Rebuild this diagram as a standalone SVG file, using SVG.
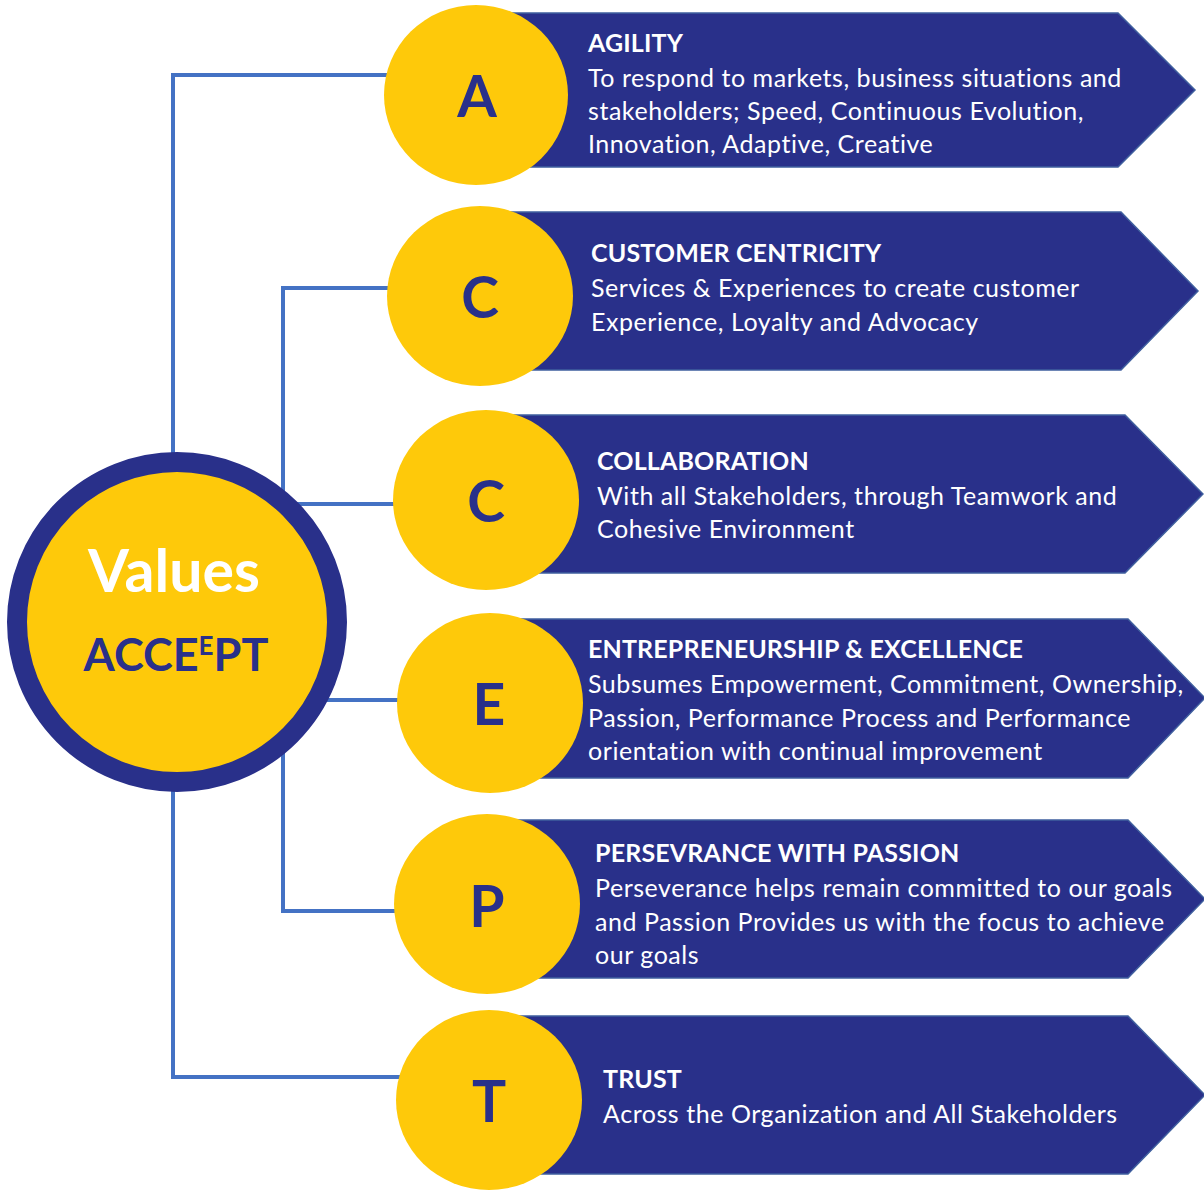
<svg xmlns="http://www.w3.org/2000/svg" width="1204" height="1191" viewBox="0 0 1204 1191">
  <style>
    .link { fill: none; stroke: #4472C4; stroke-width: 4; }
    .band { fill: #29308A; stroke: #3F5F9E; stroke-width: 1.5; }
    .badge { fill: #FEC90A; }
    .letter { font-family: Lato, "Open Sans", sans-serif; font-weight: 700; font-size: 57px; fill: #29308A; text-anchor: middle; }
    .title { font-family: Lato, "Open Sans", sans-serif; font-weight: 700; font-size: 25px; letter-spacing: 0.15px; fill: #FFFFFF; }
    .body { font-family: Lato, "Open Sans", sans-serif; font-size: 25px; letter-spacing: 0.55px; fill: #FFFFFF; }
  </style>

  <!-- connectors from the hub to each value badge -->
  <g id="connectors">
    <polyline class="link" points="387,75 173,75 173,1077 402,1077"/>
    <polyline class="link" points="390,288 283,288 283,911 397,911"/>
    <line class="link" x1="283" y1="504" x2="395" y2="504"/>
    <line class="link" x1="283" y1="700" x2="399" y2="700"/>
  </g>

  <!-- central hub -->
  <g id="hub">
    <circle cx="177" cy="622" r="160" fill="#FEC90A" stroke="#29308A" stroke-width="20"/>
    <text x="174" y="592" font-family="Lato, 'Open Sans', sans-serif" font-weight="700" font-size="59" fill="#FFFFFF" text-anchor="middle">Values</text>
    <text x="176" y="671" font-family="Lato, 'Open Sans', sans-serif" font-weight="700" font-size="45" fill="#29308A" text-anchor="middle">ACCE<tspan font-size="26" dy="-16">E</tspan><tspan dy="16">PT</tspan></text>
  </g>

  <g id="agility">
    <polygon class="band" points="480,13 1118,13 1195,90 1118,167 480,167"/>
    <ellipse class="badge" cx="476" cy="95" rx="92" ry="90"/>
    <text class="letter" x="477" y="117">A</text>
    <text class="title" x="588" y="52">AGILITY</text>
    <text class="body" x="588" y="87">To respond to markets, business situations and</text>
    <text class="body" x="588" y="120">stakeholders; Speed, Continuous Evolution,</text>
    <text class="body" x="588" y="153">Innovation, Adaptive, Creative</text>
  </g>

  <g id="customer-centricity">
    <polygon class="band" points="484,212 1121,212 1198,291 1121,370 484,370"/>
    <ellipse class="badge" cx="480" cy="296" rx="93" ry="90"/>
    <text class="letter" x="480" y="318">C</text>
    <text class="title" x="591" y="262">CUSTOMER CENTRICITY</text>
    <text class="body" x="591" y="297">Services &amp; Experiences to create customer</text>
    <text class="body" x="591" y="331">Experience, Loyalty and Advocacy</text>
  </g>

  <g id="collaboration">
    <polygon class="band" points="490,415 1125,415 1203,494 1125,573 490,573"/>
    <ellipse class="badge" cx="486" cy="500" rx="93" ry="90"/>
    <text class="letter" x="486" y="522">C</text>
    <text class="title" x="597" y="470">COLLABORATION</text>
    <text class="body" x="597" y="505">With all Stakeholders, through Teamwork and</text>
    <text class="body" x="597" y="538">Cohesive Environment</text>
  </g>

  <g id="entrepreneurship">
    <polygon class="band" points="494,619 1128,619 1205,698 1128,778 494,778"/>
    <ellipse class="badge" cx="490" cy="703" rx="93" ry="90"/>
    <text class="letter" x="489" y="725">E</text>
    <text class="title" x="588" y="658">ENTREPRENEURSHIP &amp; EXCELLENCE</text>
    <text class="body" x="588" y="693">Subsumes Empowerment, Commitment, Ownership,</text>
    <text class="body" x="588" y="727">Passion, Performance Process and Performance</text>
    <text class="body" x="588" y="760">orientation with continual improvement</text>
  </g>

  <g id="perseverance">
    <polygon class="band" points="491,820 1128,820 1205,899 1128,978 491,978"/>
    <ellipse class="badge" cx="487" cy="904" rx="93" ry="90"/>
    <text class="letter" x="487" y="927">P</text>
    <text class="title" x="595" y="862">PERSEVRANCE WITH PASSION</text>
    <text class="body" x="595" y="897">Perseverance helps remain committed to our goals</text>
    <text class="body" x="595" y="931">and Passion Provides us with the focus to achieve</text>
    <text class="body" x="595" y="964">our goals</text>
  </g>

  <g id="trust">
    <polygon class="band" points="493,1016 1128,1016 1205,1095 1128,1174 493,1174"/>
    <ellipse class="badge" cx="489" cy="1100" rx="93" ry="90"/>
    <text class="letter" x="489" y="1122">T</text>
    <text class="title" x="603" y="1088">TRUST</text>
    <text class="body" x="603" y="1123">Across the Organization and All Stakeholders</text>
  </g>
</svg>
